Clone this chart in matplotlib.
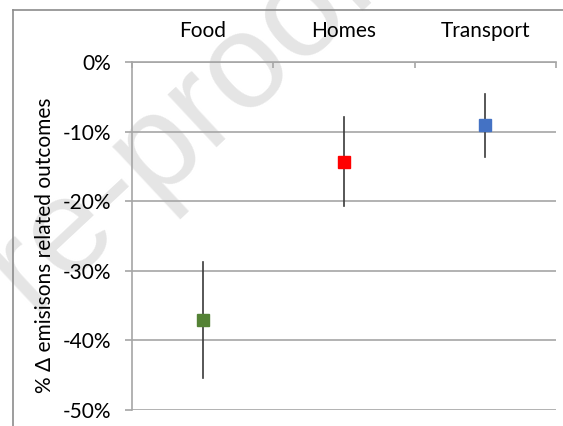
import matplotlib
matplotlib.use('Agg')
import matplotlib.pyplot as plt
from matplotlib.lines import Line2D
from matplotlib.ticker import FuncFormatter

# Change in emissions-related outcomes per sector (fraction), with range
categories = ['Food', 'Homes', 'Transport']
means = [-0.371, -0.144, -0.091]
lows = [-0.454, -0.207, -0.136]
highs = [-0.288, -0.079, -0.046]
colors = ['#548235', '#ff0000', '#4472c4']

plt.rcParams['font.family'] = ['Lato', 'DejaVu Sans']

W, H = 563, 426
fig = plt.figure(figsize=(W / 100, H / 100), dpi=100)
fig.patch.set_facecolor('white')

# faint watermark behind the chart
fig.text(-26 / W, 1 - 326 / H, 'Journal Pre-proof', fontsize=98,
         family='Liberation Sans', color='#e5e5e5', rotation=43,
         ha='center', va='center', zorder=-1)

# chart area frame
fig.add_artist(Line2D([13 / W, 13 / W], [0, 1 - 10 / H], color='#8c8c8c', lw=1.2))
fig.add_artist(Line2D([13 / W, 1], [1 - 10 / H, 1 - 10 / H], color='#8c8c8c', lw=1.2))

ax = fig.add_axes([132 / W, 1 - 410 / H, (556 - 132) / W, (410 - 62) / H])
ax.patch.set_alpha(0)

x = [i + 0.5 for i in range(len(categories))]
for xi, m, lo, hi, c in zip(x, means, lows, highs, colors):
    ax.plot([xi, xi], [lo, hi], color='#3a3a3a', lw=1.2, zorder=3)
    ax.plot(xi, m, marker='s', markersize=8.5, color=c, zorder=4, lw=0)

ax.set_xlim(0, 3)
ax.set_ylim(-0.5, 0)
ax.set_yticks([0, -0.1, -0.2, -0.3, -0.4, -0.5])
ax.yaxis.set_major_formatter(FuncFormatter(lambda v, p: '{:.0f}%'.format(v * 100)))
ax.grid(axis='y', color='#a6a6a6', lw=1.2)
ax.set_axisbelow(True)

# category axis sits on the 0% line at the top
ax.xaxis.tick_top()
ax.set_xticks([0, 1, 2, 3])
ax.set_xticklabels([])
ax.set_xticks(x, minor=True)
ax.set_xticklabels(categories, minor=True, fontsize=15)
ax.tick_params(axis='x', which='major', direction='in', length=4, width=1.2, color='#a6a6a6')
ax.tick_params(axis='x', which='minor', length=0, pad=15)
ax.tick_params(axis='y', which='major', direction='out', length=5, width=1.2,
               color='#a6a6a6', pad=10, labelsize=15)

for s in ['bottom', 'right']:
    ax.spines[s].set_visible(False)
for s in ['top', 'left']:
    ax.spines[s].set_color('#a6a6a6')
    ax.spines[s].set_linewidth(1.2)

fig.text(45 / W, 1 - 245 / H, '% Δ emisisons related outcomes', rotation=90,
         ha='center', va='center', fontsize=15)

fig.savefig('out.png', dpi=100)
